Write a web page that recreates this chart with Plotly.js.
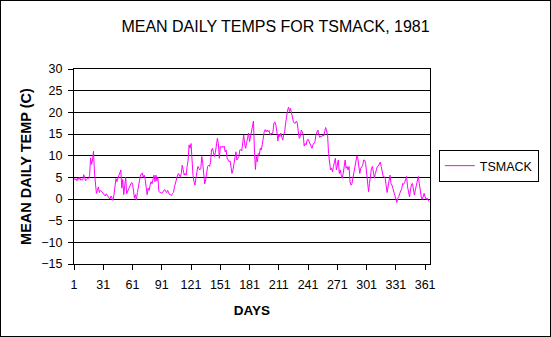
<!DOCTYPE html>
<html>
<head>
<meta charset="utf-8">
<script src="https://cdn.plot.ly/plotly-3.0.1.min.js"></script>
<style>
  html, body { margin: 0; padding: 0; background: #fff; }
  #wrap { position: relative; width: 551px; height: 337px; }
  #chart { position: absolute; left: 0; top: 0; width: 551px; height: 337px; }
  #frame { position: absolute; left: 0; top: 0; width: 551px; height: 337px; box-sizing: border-box; border: 1px solid #000; pointer-events: none; }
</style>
</head>
<body>
<div id="wrap"><div id="chart"></div><div id="frame"></div></div>
<script>
// Mean daily temperature (C), day 1..365
const temps = [
  4.8, 4.4, 4.7, 4.2, 4.9, 4.5, 5.0, 4.3, 4.5, 4.4,
  5.6, 4.6, 4.2, 4.5, 4.8, 4.7, 5.5, 9.5, 8.0, 9.0,
  11.0, 6.0, 3.0, 1.3, 2.0, 2.8, 1.5, 2.0, 1.8, 1.5,
  1.2, 1.0, 0.7, 1.2, 0.8, 0.5, 0.2, 0.0, 0.7, 0.2,
  -0.3, 1.0, 3.5, 4.7, 4.0, 5.0, 5.5, 6.0, 6.7, 2.5,
  4.5, 1.0, 3.0, 5.0, 1.2, 2.0, 2.3, 2.8, 3.5, 3.8,
  3.6, 2.0, 0.2, 1.0, -0.2, 1.5, 2.8, 4.5, 5.3, 5.8,
  6.0, 5.0, 5.5, 4.5, 3.0, 1.0, 2.5, 2.0, 3.2, 4.0,
  3.5, 4.3, 5.5, 4.0, 5.5, 4.2, 5.0, 1.8, 1.5, 1.5,
  1.3, 1.6, 1.9, 2.2, 1.7, 1.5, 2.0, 1.5, 1.0, 1.0,
  0.8, 1.3, 1.5, 2.8, 3.8, 4.5, 5.3, 5.9, 5.4, 5.1,
  5.9, 7.8, 6.7, 5.5, 5.9, 5.5, 7.5, 9.0, 12.5, 11.7,
  12.8, 8.5, 5.5, 4.0, 3.2, 4.8, 6.0, 7.5, 7.1, 6.7,
  7.0, 9.8, 8.2, 5.2, 3.5, 4.4, 6.5, 7.5, 7.8, 7.5,
  8.5, 11.3, 11.7, 10.5, 9.8, 10.8, 12.0, 14.0, 12.8, 9.4,
  12.1, 11.9, 12.2, 11.9, 12.2, 10.9, 11.3, 9.4, 9.0, 8.6,
  8.8, 7.5, 5.9, 6.7, 8.2, 9.4, 10.9, 9.0, 9.4, 9.8,
  11.3, 11.4, 11.1, 12.5, 14.8, 12.8, 11.7, 13.0, 14.0, 15.2,
  13.2, 14.5, 15.5, 17.5, 18.0, 11.3, 6.8, 9.8, 8.6, 10.5,
  10.2, 11.7, 11.3, 12.5, 14.8, 15.5, 16.0, 15.5, 15.9, 15.5,
  15.8, 14.8, 15.2, 15.0, 15.5, 17.5, 17.8, 17.0, 15.5, 13.4,
  15.0, 14.4, 15.2, 14.0, 13.6, 14.8, 15.5, 17.5, 19.4, 20.5,
  21.2, 20.2, 20.9, 19.8, 18.2, 17.8, 17.5, 17.5, 18.0, 17.5,
  15.5, 14.0, 14.4, 15.9, 15.5, 14.8, 12.2, 12.8, 12.5, 13.6,
  13.8, 13.2, 12.8, 12.1, 11.7, 12.5, 12.8, 13.2, 14.8, 15.7,
  15.9, 14.8, 14.2, 14.5, 14.4, 14.8, 14.5, 15.5, 16.5, 15.7,
  14.8, 10.5, 8.6, 6.7, 7.1, 6.3, 7.5, 8.6, 9.4, 6.7,
  8.2, 9.0, 5.9, 6.7, 5.5, 4.8, 5.9, 8.2, 9.0, 7.1,
  7.5, 6.7, 7.5, 4.0, 3.2, 3.6, 4.8, 5.9, 7.5, 9.0,
  9.9, 9.4, 7.5, 5.9, 7.1, 7.5, 7.8, 9.0, 9.0, 8.2,
  5.5, 2.8, 1.7, 3.6, 5.5, 7.1, 7.5, 6.3, 4.8, 5.9,
  6.8, 7.5, 7.6, 8.2, 8.5, 7.5, 6.3, 5.2, 5.2, 4.8,
  3.2, 1.5, 2.8, 4.8, 5.5, 3.6, 3.2, 2.4, 1.7, 0.9,
  -0.2, -0.8, 0.2, 0.5, 1.3, 1.7, 2.4, 3.6, 3.4, 3.8,
  4.4, 5.2, 2.8, 1.3, 0.5, 2.1, 3.4, 3.6, 1.7, 0.9,
  2.1, 3.2, 4.0, 5.2, 3.6, 1.7, 0.5, -0.1, 0.9, 1.3,
  0.5, -0.1, 0.2, -0.2, -0.6
];
const days = temps.map((_, i) => i + 1);
const xTickVals = [1, 31, 61, 91, 121, 151, 181, 211, 241, 271, 301, 331, 361];
const yTickVals = [-15, -10, -5, 0, 5, 10, 15, 20, 25, 30];
const seriesName = 'TSMACK';
const chartTitle = 'MEAN DAILY TEMPS FOR TSMACK, 1981';
const xTitle = 'DAYS';
const yTitle = 'MEAN DAILY TEMP (C)';

const FONT = 'Arial, "Liberation Sans", sans-serif';

const trace = {
  x: days, y: temps, type: 'scatter', mode: 'lines', name: seriesName,
  line: { color: '#ff00ff', width: 1 }
};

const layout = {
  width: 551, height: 337,
  margin: { l: 74, r: 114, t: 69, b: 73, pad: 0 },
  paper_bgcolor: '#ffffff', plot_bgcolor: '#ffffff',
  font: { family: FONT, color: '#000', size: 12.5 },
  title: {
    text: chartTitle, font: { family: FONT, size: 16, color: '#000' },
    xref: 'container', x: 0.5, xanchor: 'center',
    yref: 'container', y: 1 - 26 / 337, yanchor: 'middle'
  },
  xaxis: {
    range: [1, 366], tickmode: 'array', tickvals: xTickVals,
    ticks: 'outside', ticklen: 5, tickwidth: 1, tickcolor: '#000',
    ticklabelstandoff: 4,
    showgrid: false, zeroline: false,
    showline: true, linecolor: '#000', linewidth: 1, mirror: true,
    tickfont: { family: FONT, size: 12.5, color: '#000' },
    title: { text: '<b>' + xTitle + '</b>', font: { family: FONT, size: 13.5, color: '#000' }, standoff: 14 }
  },
  yaxis: {
    range: [-15, 30], tickmode: 'array', tickvals: yTickVals,
    ticks: 'outside', ticklen: 5, tickwidth: 1, tickcolor: '#000',
    ticklabelstandoff: 3,
    showgrid: true, gridcolor: '#000', gridwidth: 1, zeroline: false,
    showline: true, linecolor: '#000', linewidth: 1, mirror: true,
    tickfont: { family: FONT, size: 12.5, color: '#000' },
    title: { text: '<b>' + yTitle + '</b>', font: { family: FONT, size: 14.5, color: '#000' }, standoff: 6 }
  },
  showlegend: true,
  legend: {
    x: (446 - 74) / 363, xanchor: 'left', xref: 'paper',
    y: (264 - 166) / 195, yanchor: 'middle', yref: 'paper',
    bgcolor: '#ffffff', bordercolor: '#000', borderwidth: 1,
    font: { family: FONT, size: 12.5, color: '#000' },
    itemwidth: 30, tracegroupgap: 0
  }
};

Plotly.newPlot('chart', [trace], layout, { displayModeBar: false, staticPlot: true });
</script>
</body>
</html>
